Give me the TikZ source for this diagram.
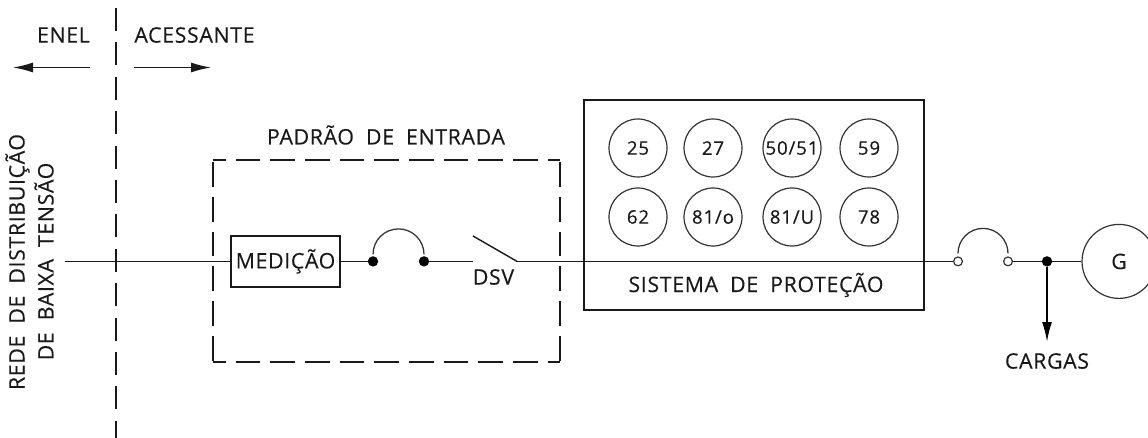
\documentclass[tikz,border=0pt]{standalone}
\usepackage{fontspec}
\setmainfont{Open Sans}[LetterSpace=3,AutoFakeBold=0]
\usetikzlibrary{arrows.meta,calc}
\newcommand{\bigtxt}{\fontsize{16pt}{19pt}\selectfont\addfontfeatures{FakeBold=0.3}\spaceskip=9pt\relax}
\newcommand{\smalltxt}{\fontsize{14pt}{16pt}\selectfont\addfontfeatures{FakeBold=0.3,LetterSpace=4.5}}
\tikzset{
  x=0.75pt,y=-0.75pt,
  ln/.style={line width=1.05pt,black!90},
  thin ln/.style={line width=0.95pt,black!80},
  lbl/.style={inner sep=0pt,text=black!90,font=\bigtxt},
  relay/.style={circle,draw=black!80,line width=0.9pt,minimum size=43.5pt,inner sep=0pt,text=black!90,font=\smalltxt},
  dotf/.style={circle,fill=black,minimum size=7.8pt,inner sep=0pt},
  doto/.style={circle,draw=black!80,fill=white,line width=0.9pt,minimum size=6.6pt,inner sep=0pt},
  hd/.style={-{Latex[length=15pt,width=7.5pt]}},
  dash line/.style={line width=1.15pt,black!90},
}
\begin{document}
\begin{tikzpicture}
\path[clip,use as bounding box] (0,0) rectangle (1148,438);
% boundary
\coordinate (bt) at (116,8);
\coordinate (bb) at (116,438);
\draw[dash line,dash pattern=on 17.2pt off 8.6pt] (bt) -- (bb);
% region labels
\node[lbl] (enel) at (63.5,35) {ENEL};
\node[lbl] (acess) at (194.5,35) {ACESSANTE};
\coordinate (al0) at (90,67.5);
\coordinate (al1) at (13,67.5);
\coordinate (ar0) at (134,67.5);
\coordinate (ar1) at (211,67.5);
\draw[ln,hd] (al0) -- (al1);
\draw[ln,hd] (ar0) -- (ar1);
\node[lbl,rotate=90] (rede1) at (17.5,262) {REDE DE DISTRIBUIÇÃO};
\node[lbl,rotate=90] (rede2) at (44,261.5) {DE BAIXA TENSÃO};
% padrao de entrada
\coordinate (p1) at (213,160);
\coordinate (p2) at (560,160);
\coordinate (p3) at (560,362);
\coordinate (p4) at (213,362);
\draw[dash line,dash pattern=on 18.5pt off 7.5pt,dash phase=9pt] (p1) -- (p2);
\draw[dash line,dash pattern=on 18.5pt off 7.5pt,dash phase=9pt] (p4) -- (p3);
\draw[dash line,dash pattern=on 18.6pt off 7.5pt,dash phase=-1.5pt] (p1) -- (p4);
\draw[dash line,dash pattern=on 18.6pt off 7.5pt,dash phase=-1.5pt] (p2) -- (p3);
\node[lbl] (padrao) at (386,135) {PADRÃO DE ENTRADA};
% line
\coordinate (src) at (65,261.4);
\node[draw=black!90,line width=1.2pt,inner sep=0pt,minimum width=81.5pt,minimum height=38pt,text=black!90,font=\bigtxt] (med) at (285.5,261.4) {MEDIÇÃO};
\node[dotf] (d1) at (373,261.4) {};
\node[dotf] (d2) at (424,261.4) {};
\coordinate (s0) at (473,261.4);
\coordinate (st) at (473,236);
\coordinate (s1) at (517,261.4);
\node[lbl] (dsv) at (493.5,277) {DSV};
\node[doto] (o1) at (958,261.4) {};
\node[doto] (o2) at (1008,261.4) {};
\node[dotf] (d3) at (1047,261.4) {};
\node[circle,draw=black!80,line width=0.9pt,minimum size=55.5pt,inner sep=0pt,text=black!90,font=\bigtxt] (gen) at (1119,261.4) {G};
\coordinate (cargaend) at (1047,342);
\node[lbl] (cargas) at (1047,361) {CARGAS};
% protection box
\node[draw=black!90,line width=1.1pt,minimum width=255pt,minimum height=157.5pt,inner sep=0pt] (prot) at (754,205) {};
\node[lbl] (sist) at (756,285) {SISTEMA DE PROTEÇÃO};
\node[relay] (r25) at (638,148) {25};
\node[relay] (r27) at (713,148) {27};
\node[relay] (r50) at (792,148) {50/51};
\node[relay] (r59) at (869,148) {59};
\node[relay] (r62) at (638,217) {62};
\node[relay] (r81o) at (713,217) {81/o};
\node[relay] (r81u) at (792,217) {81/U};
\node[relay] (r78) at (869,217) {78};
% connectors
\draw[ln] (src) -- (med.west);
\draw[ln] (med.east) -- (d1);
\draw[ln] (d2) -- (s0);
\draw[ln] (st) -- (s1);
\draw[ln] (s1) -- (o1.west);
\draw[ln] (o2.east) -- (d3);
\draw[ln] (d3) -- (gen.west);
\draw[thin ln] (d1) ++(0,-7) arc[start angle=180,end angle=360,radius=25.5];
\draw[thin ln] (o1) ++(0,-8) arc[start angle=180,end angle=360,radius=25];
\draw[line width=1.4pt,black,hd] (d3) -- (cargaend);
\end{tikzpicture}
\end{document}
